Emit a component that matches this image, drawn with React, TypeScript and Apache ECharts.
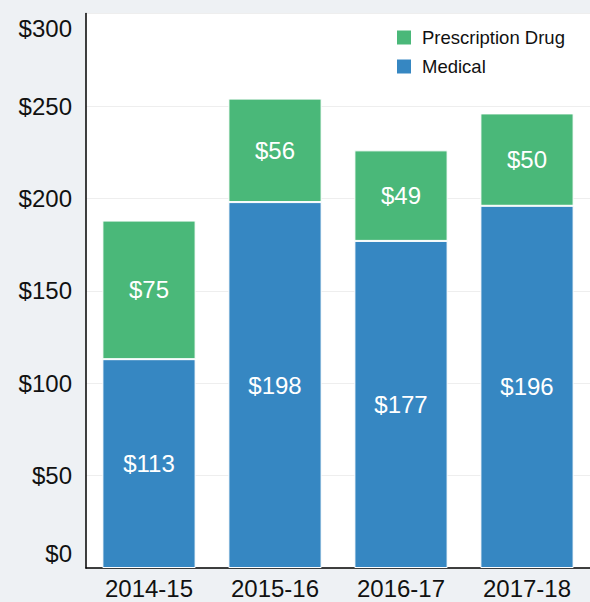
import React, { useEffect, useRef } from "react";
import * as echarts from "echarts";

const categories = ["2014-15", "2015-16", "2016-17", "2017-18"];
const medical = [113, 198, 177, 196];
const prescriptionDrug = [75, 56, 49, 50];
const yTicks = [0, 50, 100, 150, 200, 250, 300];

export default function App() {
  const ref = useRef<HTMLDivElement>(null);
  useEffect(() => {
    if (!ref.current) return;
    const chart = echarts.init(ref.current, null, { renderer: "svg" });
    const font = "Liberation Sans, Arial, Helvetica, sans-serif";
    chart.setOption({
      animation: false,
      backgroundColor: "#eef1f4",
      textStyle: { fontFamily: font },
      grid: {
        left: 86,
        right: -7,
        top: 13.6,
        bottom: 34,
        show: true,
        backgroundColor: "#ffffff",
        borderWidth: 0,
      },
      legend: {
        data: ["Prescription Drug", "Medical"],
        orient: "vertical",
        left: 395,
        top: 28,
        padding: 0,
        itemWidth: 16,
        itemHeight: 16,
        itemGap: 10,
        icon: "rect",
        textStyle: {
          fontSize: 18.5,
          color: "#111",
          fontFamily: font,
          padding: [0, 0, 0, 5],
        },
      },
      xAxis: {
        type: "category",
        data: categories,
        axisLine: { lineStyle: { color: "#000", width: 1.5 } },
        axisTick: { show: false },
        axisLabel: { fontSize: 24, color: "#111", margin: 8, fontFamily: font },
      },
      yAxis: {
        type: "value",
        min: yTicks[0],
        max: yTicks[yTicks.length - 1],
        interval: 50,
        axisLine: { show: true, lineStyle: { color: "#000", width: 1.5 } },
        axisTick: { show: false },
        splitLine: { lineStyle: { color: "#eeeeee", width: 1 } },
        axisLabel: {
          fontSize: 24,
          lineHeight: 30,
          color: "#111",
          margin: 14,
          fontFamily: font,
          formatter: (v: number) => "$" + v,
          verticalAlignMaxLabel: "top",
          verticalAlignMinLabel: "bottom",
        },
      },
      series: [
        {
          name: "Medical",
          type: "bar",
          stack: "total",
          data: medical,
          barWidth: "74%",
          itemStyle: { color: "#3687c2", borderColor: "#ffffff", borderWidth: 1 },
          label: {
            show: true,
            position: "inside",
            color: "#fff",
            fontSize: 24,
            fontFamily: font,
            formatter: (p: any) => "$" + p.value,
          },
        },
        {
          name: "Prescription Drug",
          type: "bar",
          stack: "total",
          data: prescriptionDrug,
          barWidth: "74%",
          itemStyle: { color: "#4ab879", borderColor: "#ffffff", borderWidth: 1 },
          label: {
            show: true,
            position: "inside",
            color: "#fff",
            fontSize: 24,
            fontFamily: font,
            formatter: (p: any) => "$" + p.value,
          },
        },
      ],
    });
    return () => chart.dispose();
  }, []);
  return (
    <div
      ref={ref}
      style={{ position: "absolute", left: 0, top: 0, width: 590, height: 602 }}
    />
  );
}
